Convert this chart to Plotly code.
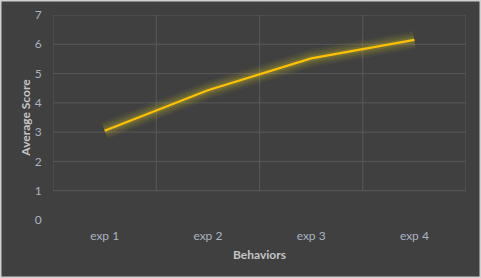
import plotly.graph_objects as go

categories = ["exp 1", "exp 2", "exp 3", "exp 4"]
scores = [3.05, 4.43, 5.52, 6.15]
y_ticks = [0, 1, 2, 3, 4, 5, 6, 7]

BG = "#404040"
GRID = "#585858"
LINE = "#FFC000"
TICK = "#a9b3c1"
TITLE = "#c4c4c4"
FONT = "Lato, Open Sans, sans-serif"

fig = go.Figure()

# glow layers
for w, a in [(18, 0.05), (14, 0.07), (10, 0.09), (6, 0.14)]:
    fig.add_trace(go.Scatter(x=categories, y=scores, mode="lines",
                             line=dict(color=f"rgba(230,210,40,{a})", width=w),
                             hoverinfo="skip", showlegend=False))
fig.add_trace(go.Scatter(x=categories, y=scores, mode="lines",
                         line=dict(color=LINE, width=2.25), showlegend=False))

shapes = []
for v in range(1, 8):
    shapes.append(dict(type="line", xref="paper", yref="y", x0=0, x1=1, y0=v, y1=v,
                       line=dict(color=GRID, width=1), layer="below"))
for xb in [-0.5, 0.5, 1.5, 2.5, 3.5]:
    shapes.append(dict(type="line", xref="x", yref="y", x0=xb, x1=xb, y0=1, y1=7,
                       line=dict(color=GRID, width=1), layer="below"))
W, H = 481, 278
L, R, T, B = 53, 15, 15, 58
pw, ph = W - L - R, H - T - B
shapes.append(dict(type="rect", xref="paper", yref="paper",
                   x0=-(L - 0.75) / pw, x1=1 + (R - 0.75) / pw,
                   y0=-(B - 0.75) / ph, y1=1 + (T - 0.75) / ph,
                   line=dict(color="#d0d0d0", width=1.5), layer="below"))

fig.update_layout(
    width=W, height=H,
    margin=dict(l=L, r=R, t=T, b=B, autoexpand=False),
    paper_bgcolor=BG, plot_bgcolor=BG,
    font=dict(family=FONT, size=12, color=TICK),
    shapes=shapes,
    xaxis=dict(range=[-0.5, 3.5], showgrid=False, zeroline=False, showline=False,
               automargin=False,
               ticks="outside", ticklen=5, tickcolor="rgba(0,0,0,0)",
               tickfont=dict(family=FONT, size=12, color=TICK),
               title=dict(text="<b>Behaviors</b>", standoff=8,
                          font=dict(family=FONT, size=12, color=TITLE))),
    yaxis=dict(range=[0, 7], tickvals=y_ticks, showgrid=False, zeroline=False,
               showline=False, automargin=False,
               ticks="outside", ticklen=8, tickcolor="rgba(0,0,0,0)",
               tickfont=dict(family=FONT, size=12, color=TICK),
               title=dict(text="<b>Average Score</b>", standoff=1,
                          font=dict(family=FONT, size=12, color=TITLE))),
)

fig.write_html("out.html", config={"displayModeBar": False},
               post_script="document.body.style.margin='0';document.body.style.overflow='hidden';")
